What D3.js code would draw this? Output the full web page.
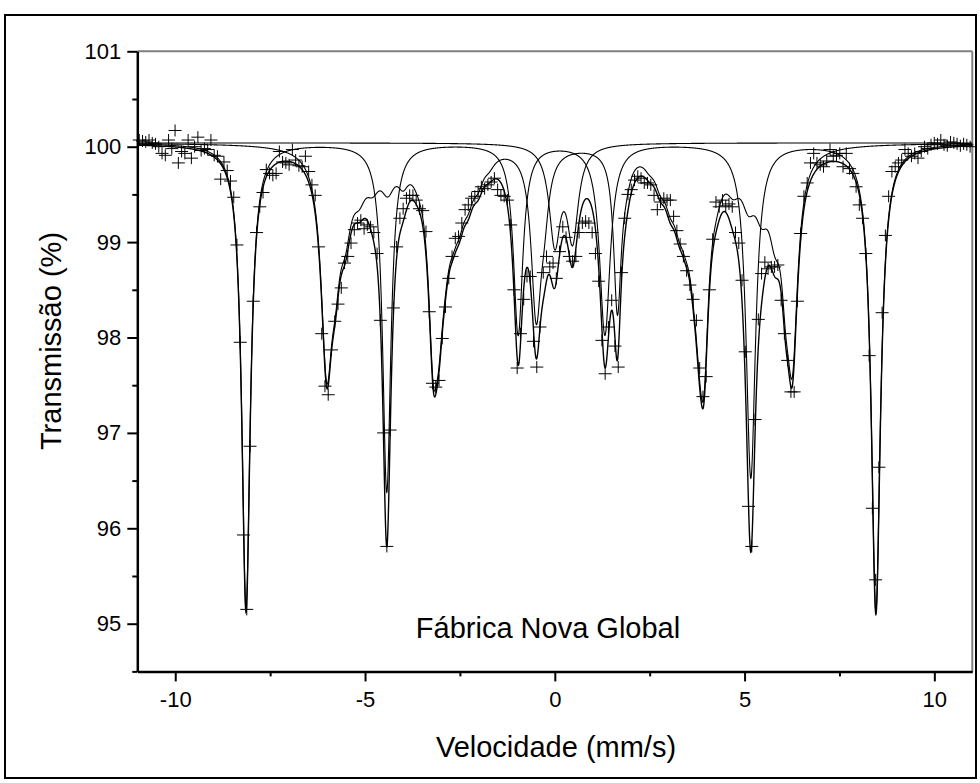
<!DOCTYPE html>
<html><head><meta charset="utf-8">
<script src="https://cdn.jsdelivr.net/npm/d3@7"></script>
<style>
html,body{margin:0;padding:0;background:#fff;}
svg{display:block;font-family:Arial,"Liberation Sans",Helvetica,sans-serif;}
</style></head><body>
<svg id="chart" width="980" height="783"></svg>
<script>
// Measured spectrum: channel velocity (mm/s) and transmission (%)
const velocity = [
-10.949,-10.863,-10.777,-10.691,-10.606,-10.520,-10.434,-10.348,-10.262,-10.176,
-10.091,-10.005,-9.919,-9.833,-9.747,-9.661,-9.575,-9.490,-9.404,-9.318,
-9.232,-9.146,-9.060,-8.974,-8.889,-8.803,-8.717,-8.631,-8.545,-8.459,
-8.374,-8.288,-8.202,-8.116,-8.030,-7.944,-7.858,-7.773,-7.687,-7.601,
-7.515,-7.429,-7.343,-7.257,-7.172,-7.086,-7.000,-6.914,-6.828,-6.742,
-6.657,-6.571,-6.485,-6.399,-6.313,-6.227,-6.141,-6.056,-5.970,-5.884,
-5.798,-5.712,-5.626,-5.541,-5.455,-5.369,-5.283,-5.197,-5.111,-5.025,
-4.940,-4.854,-4.768,-4.682,-4.596,-4.510,-4.425,-4.339,-4.253,-4.167,
-4.081,-3.995,-3.909,-3.824,-3.738,-3.652,-3.566,-3.480,-3.394,-3.308,
-3.223,-3.137,-3.051,-2.965,-2.879,-2.793,-2.707,-2.622,-2.536,-2.450,
-2.364,-2.278,-2.192,-2.107,-2.021,-1.935,-1.849,-1.763,-1.677,-1.591,
-1.506,-1.420,-1.334,-1.248,-1.162,-1.076,-0.991,-0.905,-0.819,-0.733,
-0.647,-0.561,-0.475,-0.390,-0.304,-0.218,-0.132,-0.046,0.040,0.125,
0.211,0.297,0.383,0.469,0.555,0.640,0.726,0.812,0.898,0.984,
1.070,1.156,1.241,1.327,1.413,1.499,1.585,1.671,1.757,1.842,
1.928,2.014,2.100,2.186,2.272,2.357,2.443,2.529,2.615,2.701,
2.787,2.872,2.958,3.044,3.130,3.216,3.302,3.388,3.473,3.559,
3.645,3.731,3.817,3.903,3.988,4.074,4.160,4.246,4.332,4.418,
4.504,4.589,4.675,4.761,4.847,4.933,5.019,5.104,5.190,5.276,
5.362,5.448,5.534,5.620,5.705,5.791,5.877,5.963,6.049,6.135,
6.221,6.306,6.392,6.478,6.564,6.650,6.736,6.821,6.907,6.993,
7.079,7.165,7.251,7.337,7.422,7.508,7.594,7.680,7.766,7.852,
7.938,8.023,8.109,8.195,8.281,8.367,8.453,8.538,8.624,8.710,
8.796,8.882,8.968,9.054,9.139,9.225,9.311,9.397,9.483,9.569,
9.655,9.740,9.826,9.912,9.998,10.084,10.170,10.255,10.341,10.427,
10.513,10.599,10.685,10.771,10.856,10.942];
const transmission = [
100.07,100.06,100.05,100.07,100.04,100.03,100.00,99.93,99.91,100.07,
99.98,100.17,99.83,99.95,99.93,100.07,99.88,100.00,100.10,99.96,
99.98,99.97,100.07,99.91,99.90,99.66,99.84,99.75,99.64,99.47,
98.97,97.95,95.93,95.15,96.86,98.38,99.10,99.37,99.52,99.76,
99.72,99.70,99.72,99.95,99.84,99.83,99.81,99.97,99.86,99.80,
99.79,99.90,99.74,99.60,99.49,98.95,98.04,97.49,97.40,97.87,
98.17,98.35,98.52,98.78,98.85,98.99,99.13,99.20,99.23,99.14,
99.18,99.16,99.10,98.88,98.18,97.00,95.81,97.03,98.31,98.95,
99.25,99.35,99.46,99.49,99.49,99.44,99.35,99.33,99.11,98.27,
97.52,97.48,97.55,97.99,98.32,98.62,98.85,99.04,99.06,99.20,
99.34,99.39,99.46,99.48,99.53,99.58,99.56,99.60,99.63,99.67,
99.55,99.49,99.48,99.44,99.18,98.50,97.68,98.04,98.40,98.64,
98.64,97.96,97.69,98.11,98.68,98.85,98.74,98.78,98.62,98.90,
99.16,99.05,98.85,98.80,98.85,99.10,99.20,99.22,99.20,99.10,
98.88,98.59,97.97,97.62,98.11,98.39,97.91,97.69,98.68,99.25,
99.50,99.55,99.65,99.69,99.67,99.62,99.62,99.60,99.49,99.34,
99.42,99.46,99.44,99.44,99.27,99.12,98.98,98.85,98.70,98.55,
98.40,98.18,97.68,97.38,97.59,98.50,99.03,99.42,99.37,99.44,
99.38,99.40,99.37,99.10,98.99,98.60,97.85,96.23,95.81,97.14,
98.19,98.67,98.79,98.72,98.74,98.74,98.76,98.39,98.04,97.76,
97.43,97.43,98.38,99.09,99.48,99.62,99.83,99.93,99.83,99.81,
99.79,99.85,99.97,99.90,99.91,99.93,99.79,99.93,99.77,99.72,
99.58,99.39,99.25,98.88,97.81,96.21,95.46,96.64,98.26,99.07,
99.48,99.74,99.79,99.83,99.86,99.97,99.93,99.90,99.93,99.88,
99.95,100.00,99.98,100.02,100.04,100.03,100.07,100.02,100.01,100.05,
100.04,100.03,100.01,100.03,100.02,100.00];

// Fitted sub-spectra as Lorentzian lines: centre (mm/s), depth (%), half width (mm/s)
const baseline = 100.04;
// hematite sextet
const hemCenter = [-8.135, -4.427, -0.965, 1.320, 5.165, 8.460];
const hemDepth  = [4.88, 3.65, 2.00, 2.00, 3.50, 4.90];
const hemWidth  = [0.135, 0.13, 0.15, 0.17, 0.15, 0.145];
// goethite sextet with hyperfine field distribution (lines 1..6)
const gthCenter = [-6.01,-5.78,-5.52,-5.15,-4.80,-4.40,-4.00,-3.60,
                   -3.20,-3.05,-2.90,-2.69,-2.51,-2.28,-2.02,-1.73,
                   -0.49,-0.28, 1.65, 1.86,
                    3.93, 3.81, 3.66, 3.45, 3.27, 3.04, 2.78, 2.49,
                    6.26, 6.08, 5.80, 5.45, 5.10, 4.70, 4.25, 3.75];
const gthDepth  = [2.15,0.70,0.60,0.30,0.25,0.32,0.22,0.10,
                   1.80,0.88,0.52,0.37,0.37,0.30,0.22,0.09,
                   1.70,0.45, 1.65,0.20,
                   1.75,0.75,0.54,0.38,0.38,0.32,0.23,0.09,
                   2.00,0.75,0.60,0.45,0.40,0.25,0.20,0.10];
const gthWidth  = [0.18,0.16,0.20,0.22,0.22,0.22,0.18,0.20,
                   0.16,0.15,0.18,0.18,0.18,0.18,0.18,0.18,
                   0.16,0.15, 0.12,0.18,
                   0.15,0.15,0.18,0.18,0.18,0.18,0.18,0.18,
                   0.17,0.14,0.20,0.22,0.22,0.22,0.20,0.20];
// quadrupole doublet
const dblCenter = [0.00, 0.47];
const dblDepth  = [1.00, 0.95];
const dblWidth  = [0.18, 0.18];

// axis ticks
const yTicks = [95, 96, 97, 98, 99, 100, 101];
const yMinor = [94.5, 95.5, 96.5, 97.5, 98.5, 99.5, 100.5];
const xTicks = [-10, -5, 0, 5, 10];
const xMinor = [-7.5, -2.5, 2.5, 7.5];

function absorb(v, c, d, w) {
  let s = 0;
  for (let i = 0; i < c.length; i++) { const t = (v - c[i]) / w[i]; s += d[i] / (1 + t * t); }
  return s;
}
const comps = [[hemCenter, hemDepth, hemWidth], [gthCenter, gthDepth, gthWidth], [dblCenter, dblDepth, dblWidth]];

const svg = d3.select("#chart");
const x = d3.scaleLinear().domain([-11, 11]).range([137.3, 972.3]);
const y = d3.scaleLinear().domain([94.5, 101]).range([671.4, 51.3]);

// outer frame
svg.append("rect").attr("x", 5).attr("y", 15).attr("width", 971).attr("height", 763)
  .attr("fill", "none").attr("stroke", "#000").attr("stroke-width", 2);

// top and right plot borders
svg.append("line").attr("x1", x(-11)).attr("x2", x(11)).attr("y1", y(101)).attr("y2", y(101))
  .attr("stroke", "#7f7f7f").attr("stroke-width", 2);
svg.append("line").attr("x1", x(11)).attr("x2", x(11)).attr("y1", y(101)).attr("y2", y(94.5))
  .attr("stroke", "#7f7f7f").attr("stroke-width", 2);

// fitted curves: each sub-spectrum and their sum
const grid = d3.range(-11, 11.0001, 0.004);
const line = d3.line().x(d => x(d[0])).y(d => y(d[1]));
const plot = svg.append("g");
comps.forEach(c => {
  plot.append("path").datum(grid.map(v => [v, baseline - absorb(v, c[0], c[1], c[2])]))
    .attr("d", line).attr("fill", "none").attr("stroke", "#000").attr("stroke-width", 1.1);
});
plot.append("path").datum(grid.map(v => [v, baseline - comps.reduce((a, c) => a + absorb(v, c[0], c[1], c[2]), 0)]))
  .attr("d", line).attr("fill", "none").attr("stroke", "#000").attr("stroke-width", 1.4);

// measured points
plot.selectAll("path.pt").data(velocity.map((v, i) => [v, transmission[i]])).join("path")
  .attr("class", "pt")
  .attr("transform", d => `translate(${x(d[0])},${y(d[1])})`)
  .attr("d", "M-6.5,0H6.5M0,-6V6").attr("stroke", "#000").attr("stroke-width", 1).attr("fill", "none");

// axes
const fmt = d => (d < 0 ? "-" : "") + Math.abs(d);
svg.append("g").attr("transform", `translate(${x(-11)},0)`)
  .call(d3.axisLeft(y).tickValues(yTicks).tickSize(10).tickSizeOuter(0).tickPadding(6).tickFormat(fmt));
svg.append("g").attr("transform", `translate(${x(-11)},0)`)
  .call(d3.axisLeft(y).tickValues(yMinor).tickSize(5).tickSizeOuter(0).tickFormat(""))
  .select(".domain").remove();
svg.append("g").attr("transform", `translate(0,${y(94.5)})`)
  .call(d3.axisBottom(x).tickValues(xTicks).tickSize(10).tickSizeOuter(0).tickPadding(10).tickFormat(fmt));
svg.append("g").attr("transform", `translate(0,${y(94.5)})`)
  .call(d3.axisBottom(x).tickValues(xMinor).tickSize(5).tickSizeOuter(0).tickFormat(""))
  .select(".domain").remove();
svg.selectAll(".domain").attr("stroke-width", 2.5);
svg.selectAll(".tick line").attr("stroke-width", 2);
svg.selectAll(".tick text").attr("font-size", 22).attr("fill", "#000").attr("font-family", "Arial, 'Liberation Sans', sans-serif");

// titles
svg.append("text").attr("x", 556).attr("y", 757).attr("text-anchor", "middle")
  .attr("font-size", 29).text("Velocidade (mm/s)");
svg.append("text").attr("transform", "translate(61,341) rotate(-90)").attr("text-anchor", "middle")
  .attr("font-size", 29).text("Transmissão (%)");
svg.append("text").attr("x", 548).attr("y", 638).attr("text-anchor", "middle")
  .attr("font-size", 29).text("Fábrica Nova Global");
</script>
</body></html>
